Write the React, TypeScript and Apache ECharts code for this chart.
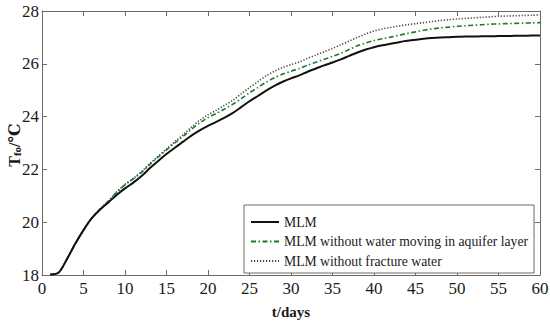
import React, { useEffect, useRef } from "react";
import * as echarts from "echarts";

const days = [
  1, 2, 3, 4, 5, 6, 7, 8, 9, 10, 11, 12, 13, 14, 15, 16, 17, 18, 19, 20,
  21, 22, 23, 24, 25, 26, 27, 28, 29, 30, 31, 32, 33, 34, 35, 36, 37, 38, 39, 40,
  41, 42, 43, 44, 45, 46, 47, 48, 49, 50, 51, 52, 53, 54, 55, 56, 57, 58, 59, 60,
];

const mlm = [
  18.02, 18.09, 18.6, 19.18, 19.7, 20.15, 20.48, 20.75, 21.03, 21.28,
  21.5, 21.75, 22.05, 22.32, 22.58, 22.82, 23.05, 23.28, 23.48, 23.65,
  23.8, 23.96, 24.14, 24.36, 24.58, 24.78, 24.98, 25.16, 25.32, 25.45,
  25.56, 25.7, 25.82, 25.94, 26.05, 26.17, 26.3, 26.43, 26.54, 26.63,
  26.7, 26.76, 26.82, 26.87, 26.91, 26.95, 26.98, 27.0, 27.01, 27.02,
  27.03, 27.03, 27.04, 27.04, 27.05, 27.05, 27.06, 27.06, 27.07, 27.07,
];

const mlmNoAquifer = [
  18.02, 18.09, 18.6, 19.18, 19.7, 20.15, 20.49, 20.8, 21.13, 21.41,
  21.64, 21.89, 22.19, 22.47, 22.74, 23.0, 23.25, 23.52, 23.76, 23.96,
  24.12, 24.29, 24.47, 24.68, 24.9, 25.1, 25.3, 25.47, 25.61, 25.72,
  25.82, 25.95, 26.06, 26.17, 26.28, 26.4, 26.54, 26.68, 26.79, 26.88,
  26.95, 27.01, 27.08, 27.15, 27.21, 27.27, 27.32, 27.36, 27.39, 27.42,
  27.44, 27.46, 27.48, 27.5, 27.51, 27.52, 27.53, 27.54, 27.55, 27.56,
];

const mlmNoFracture = [
  18.02, 18.09, 18.6, 19.18, 19.71, 20.16, 20.5, 20.81, 21.15, 21.43,
  21.66, 21.92, 22.22, 22.5, 22.77, 23.05, 23.31, 23.6, 23.86, 24.07,
  24.24, 24.43, 24.62, 24.86, 25.1, 25.32, 25.54, 25.72, 25.86, 25.97,
  26.07, 26.21, 26.33, 26.46, 26.58, 26.72, 26.86, 27.0, 27.13, 27.24,
  27.32, 27.38, 27.43, 27.48, 27.52, 27.56, 27.6, 27.64, 27.67, 27.7,
  27.72, 27.74, 27.76, 27.78, 27.8, 27.81, 27.82, 27.83, 27.84, 27.85,
];

const seriesNames = [
  "MLM",
  "MLM without water moving in aquifer layer",
  "MLM without fracture water",
];

const yAxisTitle = "{t|T}{s|fo}{t|/℃}";

const FONT = "Times New Roman, Liberation Serif, DejaVu Serif, serif";
const AXIS_COLOR = "#6e6a66";
const TEXT_COLOR = "#1a1a1a";

export default function App() {
  const ref = useRef<HTMLDivElement>(null);

  useEffect(() => {
    if (!ref.current) return;
    const chart = echarts.init(ref.current, undefined, { renderer: "svg" });
    const pair = (vals: number[]) => days.map((d, i) => [d, vals[i]]);

    const baseX = {
      type: "value",
      min: 0,
      max: 60,
      interval: 5,
      axisLine: { show: true, onZero: false, lineStyle: { color: AXIS_COLOR, width: 1 } },
      axisTick: { show: true, inside: true, length: 5, lineStyle: { color: AXIS_COLOR } },
      splitLine: { show: false },
    };
    const baseY = {
      type: "value",
      min: 18,
      max: 28,
      interval: 2,
      axisLine: { show: true, onZero: false, lineStyle: { color: AXIS_COLOR, width: 1 } },
      axisTick: { show: true, inside: true, length: 5, lineStyle: { color: AXIS_COLOR } },
      splitLine: { show: false },
    };

    chart.setOption({
      animation: false,
      backgroundColor: "#ffffff",
      textStyle: { fontFamily: FONT },
      grid: {
        left: 42,
        right: 10,
        top: 11,
        bottom: 48,
        containLabel: false,
        outerBoundsMode: "none",
      },
      graphic: [
        {
          type: "text",
          x: 14,
          y: 145,
          rotation: Math.PI / 2,
          style: {
            text: yAxisTitle,
            align: "center",
            verticalAlign: "middle",
            fill: TEXT_COLOR,
            font: "bold 16px " + FONT,
            rich: {
              t: { fontFamily: FONT, fontSize: 16, fontWeight: "bold", fill: TEXT_COLOR, color: TEXT_COLOR },
              s: { fontFamily: FONT, fontSize: 11, fontWeight: "bold", fill: TEXT_COLOR, color: TEXT_COLOR, verticalAlign: "bottom", padding: [6, 0, 0, 0] },
            },
          },
        },
      ],
      xAxis: [
        {
          ...baseX,
          position: "bottom",
          name: "t/days",
          nameLocation: "middle",
          nameGap: 29,
          nameTextStyle: { fontFamily: FONT, fontSize: 15, fontWeight: "bold", color: TEXT_COLOR },
          axisLabel: { fontFamily: FONT, fontSize: 17, color: TEXT_COLOR, margin: 5 },
        },
        { ...baseX, position: "top", axisLabel: { show: false } },
      ],
      yAxis: [
        {
          ...baseY,
          position: "left",
          axisLabel: { fontFamily: FONT, fontSize: 17, color: TEXT_COLOR, margin: 3 },
        },
        { ...baseY, position: "right", axisLabel: { show: false } },
      ],
      legend: {
        orient: "vertical",
        left: 244,
        top: 205,
        padding: [10, 6, 5, 6],
        itemGap: 5.5,
        itemWidth: 28,
        itemHeight: 14,
        backgroundColor: "#ffffff",
        borderColor: AXIS_COLOR,
        borderWidth: 1,
        itemStyle: { color: "transparent", borderWidth: 0, opacity: 0 },
        textStyle: { fontFamily: FONT, fontSize: 13.7, color: TEXT_COLOR },
        data: seriesNames,
      },
      series: [
        {
          name: seriesNames[2],
          type: "line",
          data: pair(mlmNoFracture),
          showSymbol: false,
          symbol: "none",
          smooth: 0.3,
          lineStyle: { color: "#444444", width: 1.6, type: [1.2, 1.8] },
          itemStyle: { color: "#444444" },
        },
        {
          name: seriesNames[1],
          type: "line",
          data: pair(mlmNoAquifer),
          showSymbol: false,
          symbol: "none",
          smooth: 0.3,
          lineStyle: { color: "#1b7a2c", width: 1.6, type: [5, 2.5, 1.5, 2.5] },
          itemStyle: { color: "#1b7a2c" },
        },
        {
          name: seriesNames[0],
          type: "line",
          data: pair(mlm),
          showSymbol: false,
          symbol: "none",
          smooth: 0.3,
          lineStyle: { color: "#111111", width: 2 },
          itemStyle: { color: "#111111" },
        },
      ],
    });
    return () => chart.dispose();
  }, []);

  return (
    <div
      ref={ref}
      style={{ position: "absolute", left: 0, top: 0, width: 550, height: 323, overflow: "hidden" }}
    />
  );
}
